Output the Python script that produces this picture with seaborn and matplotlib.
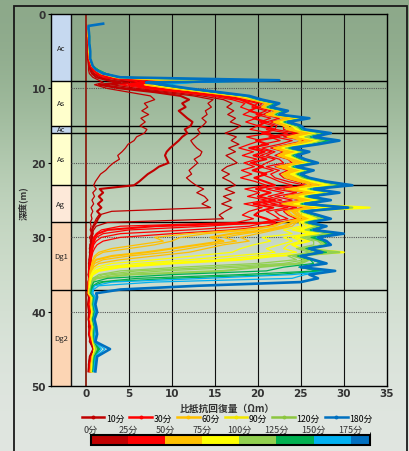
import numpy as np
import seaborn as sns
import matplotlib.pyplot as plt
from matplotlib.colors import ListedColormap, BoundaryNorm
from matplotlib.cm import ScalarMappable
from matplotlib.lines import Line2D
from matplotlib.patches import Rectangle

plt.rcParams['font.family'] = ['Noto Sans CJK JP', 'DejaVu Sans']

N = np.nan

# depth of each reading (m)
depth = [1.3, 1.6, 2, 3, 4, 5, 6, 7, 7.5, 8, 8.5, 8.9, 9.2,
         9.5, 10, 10.5, 11, 11.5, 12, 12.5, 13, 13.5, 14, 14.5, 15, 15.5, 16, 16.5, 17,
         17.5, 18, 18.5, 19, 19.5, 20, 20.5, 21, 21.5, 22, 22.5, 23,
         23.5, 24, 24.5, 25, 25.5, 26, 26.5, 27, 27.5, 28,
         28.5, 29, 29.5, 30, 30.5, 31, 31.5, 32, 32.5, 33, 33.5, 34, 34.5, 35, 35.5, 36, 36.5, 37, 37.5,
         38, 39, 40, 41, 42, 43, 44, 45, 46, 47, 48]

# resistivity recovery (Ωm) per elapsed time
r005 = [N, 0.2, 0.2, 0.2, 0.2, 0.2, 0.2, 0.3, 0.3, 0.4, 0.8, 1.5, 2.0,
        1.0, 2.5, 5.0, 7.5, 8.0, 6.8, 7.2, 6.5, 7.3, 6.4, 6.9, 6.3, 7.1, 6.8, 5.9, 5.6, 4.9, 4.6, 4.2, 3.7, 3.9, 3.2, 2.7, 2.3, 1.7, 1.4, 1.1, 0.9,
        1.2, 0.8, 1.0, 0.7, 0.9, 0.6, 0.8, 0.6, 0.7, 0.5,
        0.6, 0.5, 0.7, 0.4, 0.6, 0.5, 0.4, 0.5, 0.4, 0.4, 0.3, 0.4, 0.3, 0.3, 0.4, 0.3, 0.3, 0.3, 0.2,
        0.3, 0.2, 0.3, 0.3, 0.4, 0.3, 0.5, 0.8, 0.4, 0.3, 0.3]
r010 = [N, 0.2, 0.2, 0.2, 0.3, 0.3, 0.3, 0.4, 0.5, 0.7, 1.2, 2.5, 4.0,
        1.5, 4.0, 8.0, 11.0, 12.0, 11.2, 11.6, 10.8, 11.3, 11.8, 12.4, 12.2, 11.5, 11.8, 11.2, 10.8, 10.3, 9.8, 9.4, 9.2, 9.4, 9.6, 8.5, 7.9, 7.2, 6.7, 6.2, 5.6,
        1.6, 2.0, 1.5, 1.9, 1.4, 1.8, 1.3, 1.7, 1.4, 1.2,
        0.9, 0.7, 0.8, 0.6, 0.7, 0.5, 0.6, 0.5, 0.5, 0.4, 0.5, 0.4, 0.4, 0.3, 0.4, 0.3, 0.3, 0.3, 0.3,
        0.4, 0.3, 0.4, 0.3, 0.5, 0.4, 0.6, 1.2, 0.5, 0.4, 0.3]
r015 = [N, 0.2, 0.2, 0.2, 0.3, 0.3, 0.3, 0.4, 0.6, 0.9, 1.5, 3.0, 5.0,
        2.0, 5.0, 9.0, 12.5, 14.8, 14.2, 14.6, 13.9, 14.1, 13.5, 14.0, 13.6, 13.0, 13.3, 12.8, 12.2, 12.5, 12.9, 13.5, 13.3, 12.6, 13.0, 12.5, 12.0, 12.3, 11.7, 12.2, 12.8,
        13.7, 12.9, 13.8, 14.2, 13.5, 14.5, 3.0, 1.5, 1.2, 1.0,
        0.8, 0.7, 0.6, 0.7, 0.5, 0.6, 0.5, 0.4, 0.5, 0.4, 0.4, 0.3, 0.4, 0.3, 0.3, 0.3, 0.3, 0.3, 0.2,
        0.3, 0.4, 0.3, 0.4, 0.3, 0.5, 0.4, 0.9, 0.5, 0.3, 0.3]
r020 = [N, 0.2, 0.2, 0.3, 0.3, 0.3, 0.3, 0.5, 0.7, 1.0, 1.8, 4.0, 6.0,
        3.0, 6.0, 10.0, 13.5, 16.0, 17.0, 16.4, 17.2, 16.5, 17.4, 16.8, 18.0, 17.3, 16.2, 17.5, 16.9, 17.8, 16.6, 17.4, 16.3, 17.0, 17.6, 16.4, 15.8, 16.7, 15.9, 16.8, 17.4,
        16.2, 17.3, 16.0, 16.9, 15.8, 17.0, 16.2, 15.5, 16.0, 2.5,
        1.2, 0.9, 0.7, 0.8, 0.6, 0.7, 0.5, 0.6, 0.5, 0.4, 0.5, 0.4, 0.4, 0.3, 0.4, 0.3, 0.3, 0.3, 0.3,
        0.4, 0.3, 0.5, 0.4, 0.4, 0.5, 0.6, 1.4, 0.6, 0.4, 0.4]
r025 = [N, 0.2, 0.2, 0.3, 0.3, 0.3, 0.3, 0.5, 0.8, 1.2, 2.0, 5.0, 6.5,
        4.0, 7.0, 11.0, 14.5, 17.0, 18.5, 18.0, 19.2, 18.3, 19.8, 18.6, 20.0, 19.1, 21.5, 18.7, 20.3, 19.0, 17.8, 19.5, 18.2, 19.9, 18.4, 19.6, 18.1, 19.3, 18.0, 19.7, 21.0,
        18.5, 20.2, 18.8, 21.0, 18.4, 20.5, 19.0, 18.2, 19.5, 17.5,
        4.0, 1.8, 1.2, 0.9, 0.8, 0.7, 0.6, 0.6, 0.5, 0.5, 0.4, 0.4, 0.4, 0.3, 0.4, 0.3, 0.3, 0.3, 0.3,
        0.4, 0.4, 0.5, 0.4, 0.5, 0.4, 0.6, 1.3, 0.6, 0.5, 0.4]
r030 = [N, 0.2, 0.2, 0.3, 0.3, 0.3, 0.4, 0.6, 0.9, 1.4, 2.5, 6.0, 7.0,
        5.0, 8.0, 12.0, 15.5, 18.0, 19.0, 20.0, 19.0, 20.5, 19.5, 21.0, 20.0, 22.0, 20.5, 22.5, 19.8, 21.2, 19.0, 20.8, 19.5, 21.0, 19.2, 20.6, 19.4, 21.0, 19.6, 20.8, 22.0,
        19.8, 21.5, 20.0, 22.0, 19.5, 21.8, 20.2, 19.6, 21.0, 22.0,
        8.0, 2.5, 1.4, 1.0, 0.9, 0.8, 0.7, 0.6, 0.6, 0.5, 0.5, 0.4, 0.4, 0.4, 0.4, 0.3, 0.3, 0.3, 0.3,
        0.5, 0.4, 0.5, 0.5, 0.6, 0.5, 0.7, 1.5, 0.7, 0.5, 0.5]
r035 = [N, 0.2, 0.3, 0.3, 0.3, 0.3, 0.4, 0.6, 1.0, 1.5, 2.8, 7.0, 7.5,
        5.5, 8.5, 12.5, 16.0, 18.0, 20.0, 19.3, 21.0, 19.8, 21.5, 20.2, 21.8, 21.0, 23.5, 21.3, 22.6, 20.5, 19.8, 21.6, 20.3, 22.0, 21.0, 20.2, 21.8, 20.4, 21.5, 22.5, 24.0,
        21.0, 23.0, 21.2, 22.8, 20.6, 23.5, 21.0, 21.8, 22.5, 20.5,
        14.0, 5.0, 2.0, 1.2, 1.0, 0.8, 0.7, 0.7, 0.6, 0.5, 0.5, 0.4, 0.4, 0.4, 0.3, 0.4, 0.3, 0.3, 0.3,
        0.5, 0.5, 0.6, 0.4, 0.6, 0.5, 0.7, 1.4, 0.8, 0.6, 0.5]
r040 = [N, 0.2, 0.3, 0.3, 0.3, 0.4, 0.4, 0.7, 1.0, 1.6, 3.0, 8.0, 7.5,
        6.0, 9.0, 13.0, 16.5, 18.5, 20.5, 20.0, 21.5, 20.6, 22.5, 21.0, 22.2, 22.0, 24.5, 22.0, 24.0, 22.5, 20.5, 22.0, 21.0, 22.5, 23.0, 21.0, 22.5, 21.5, 22.0, 23.5, 25.5,
        22.0, 24.5, 22.0, 24.0, 21.5, 24.5, 22.0, 22.5, 23.5, 21.0,
        19.0, 12.0, 4.0, 1.8, 1.2, 0.9, 0.8, 0.7, 0.6, 0.6, 0.5, 0.5, 0.4, 0.4, 0.4, 0.3, 0.3, 0.3, 0.3,
        0.5, 0.5, 0.6, 0.5, 0.6, 0.6, 0.7, 1.3, 0.7, 0.6, 0.5]
r045 = [N, 0.3, 0.3, 0.3, 0.3, 0.4, 0.4, 0.7, 1.1, 1.7, 3.2, 8.5, 8.0,
        6.5, 9.5, 13.5, 17.0, 19.0, 21.0, 20.3, 22.0, 21.2, 23.5, 21.5, 23.0, 23.0, 25.0, 23.0, 25.5, 23.5, 21.5, 23.0, 22.0, 23.5, 24.0, 22.0, 23.5, 22.5, 23.0, 24.5, 26.5,
        23.0, 25.5, 23.0, 25.0, 22.5, 25.5, 23.0, 23.5, 24.5, 22.5,
        21.0, 17.0, 10.0, 4.0, 2.0, 1.3, 1.0, 0.8, 0.7, 0.6, 0.6, 0.5, 0.5, 0.4, 0.4, 0.4, 0.3, 0.3, 0.3,
        0.6, 0.5, 0.6, 0.5, 0.7, 0.6, 0.7, 1.2, 0.7, 0.6, 0.5]
r050 = [N, 0.3, 0.3, 0.3, 0.3, 0.4, 0.4, 0.7, 1.1, 1.7, 3.3, 9.0, 8.0,
        6.8, 9.8, 13.8, 17.2, 19.2, 21.2, 20.5, 22.1, 21.4, 23.8, 21.8, 23.2, 23.3, 25.2, 23.4, 25.8, 23.8, 21.8, 23.2, 22.3, 23.6, 24.3, 22.2, 23.8, 22.8, 23.2, 24.8, 26.8,
        23.2, 25.8, 23.2, 25.2, 22.8, 25.8, 23.2, 23.8, 24.8, 22.8,
        21.5, 18.0, 12.0, 8.0, 9.0, 6.0, 3.0, 1.5, 1.0, 0.8, 0.7, 0.6, 0.5, 0.5, 0.4, 0.4, 0.4, 0.3, 0.3,
        0.6, 0.5, 0.7, 0.5, 0.7, 0.6, 0.8, 1.1, 0.7, 0.6, 0.5]
r055 = [N, 0.3, 0.3, 0.3, 0.4, 0.4, 0.4, 0.7, 1.1, 1.8, 3.4, 9.0, 8.5,
        7.0, 10.0, 14.0, 17.5, 19.5, 21.5, 20.8, 22.3, 21.6, 24.0, 22.0, 23.5, 23.5, 25.5, 23.8, 26.0, 24.0, 22.0, 23.5, 22.5, 23.8, 24.5, 22.5, 24.0, 23.0, 23.5, 25.0, 27.0,
        23.5, 26.0, 23.5, 25.5, 23.0, 26.0, 23.5, 24.0, 25.0, 23.0,
        22.0, 19.0, 14.0, 11.0, 10.0, 8.0, 5.0, 2.0, 1.2, 0.9, 0.7, 0.6, 0.5, 0.5, 0.4, 0.4, 0.4, 0.3, 0.3,
        0.6, 0.6, 0.7, 0.5, 0.7, 0.6, 0.8, 1.0, 0.8, 0.6, 0.6]
r060 = [N, 0.3, 0.3, 0.3, 0.4, 0.4, 0.5, 0.8, 1.2, 1.9, 3.5, 10.0, 9.0,
        7.0, 10.5, 14.0, 17.5, 19.5, 21.0, 20.5, 22.5, 21.0, 23.5, 22.0, 23.0, 24.0, 26.0, 24.0, 25.0, 24.5, 22.0, 24.0, 22.5, 24.0, 25.0, 23.0, 24.5, 23.0, 24.0, 25.5, 26.0,
        24.0, 26.5, 24.0, 26.0, 23.5, 27.0, 24.0, 24.5, 25.5, 24.0,
        23.0, 21.0, 17.0, 14.5, 16.0, 13.0, 10.0, 7.0, 3.0, 1.2, 0.8, 0.7, 0.6, 0.5, 0.5, 0.4, 0.4, 0.4, 0.3,
        0.6, 0.6, 0.7, 0.6, 0.7, 0.6, 0.8, 1.1, 0.8, 0.7, 0.6]
r065 = [N, 0.3, 0.3, 0.3, 0.4, 0.4, 0.5, 0.8, 1.2, 2.0, 3.5, 10.5, 9.2,
        7.2, 10.8, 14.2, 17.8, 19.8, 21.4, 20.8, 22.6, 21.4, 24.0, 22.2, 23.4, 24.1, 26.2, 24.2, 25.8, 24.8, 22.2, 24.2, 22.8, 24.2, 25.2, 23.2, 24.8, 23.2, 24.2, 25.8, 26.8,
        24.2, 26.8, 24.2, 26.2, 23.8, 27.2, 24.2, 24.8, 25.8, 24.2,
        23.5, 21.5, 18.5, 16.0, 17.5, 14.5, 12.0, 9.5, 5.0, 2.0, 1.0, 0.8, 0.6, 0.5, 0.5, 0.4, 0.4, 0.4, 0.3,
        0.6, 0.6, 0.7, 0.6, 0.8, 0.6, 0.8, 1.0, 0.8, 0.7, 0.6]
r070 = [N, 0.3, 0.3, 0.3, 0.4, 0.4, 0.5, 0.8, 1.3, 2.0, 3.6, 11.0, 9.5,
        7.5, 11.0, 14.5, 18.0, 20.0, 21.8, 21.0, 22.8, 21.8, 24.5, 22.5, 23.8, 24.2, 26.5, 24.5, 26.5, 25.0, 22.5, 24.5, 23.0, 24.5, 25.5, 23.5, 25.0, 23.5, 24.5, 26.0, 27.5,
        24.5, 27.0, 24.5, 26.5, 24.0, 27.5, 24.5, 25.0, 26.0, 24.5,
        24.0, 22.0, 20.0, 18.0, 19.0, 16.0, 14.0, 12.0, 8.0, 4.0, 1.5, 0.9, 0.7, 0.6, 0.5, 0.5, 0.4, 0.4, 0.4,
        0.7, 0.6, 0.7, 0.6, 0.8, 0.7, 0.8, 1.0, 0.8, 0.7, 0.6]
r075 = [N, 0.3, 0.3, 0.3, 0.4, 0.4, 0.5, 0.8, 1.3, 2.0, 3.6, 12.0, 9.8,
        7.8, 11.0, 14.5, 18.0, 20.0, 21.9, 21.0, 22.9, 21.9, 24.8, 22.6, 24.0, 24.4, 26.8, 24.8, 27.0, 25.2, 22.8, 24.8, 23.2, 24.6, 25.8, 23.6, 25.2, 23.8, 24.8, 26.2, 28.0,
        24.8, 27.2, 24.8, 26.8, 24.2, 27.8, 24.8, 25.2, 26.2, 24.8,
        25.0, 23.0, 24.0, 20.5, 21.5, 19.5, 18.0, 17.0, 12.5, 8.0, 3.0, 1.2, 0.8, 0.6, 0.5, 0.5, 0.4, 0.4, 0.4,
        0.7, 0.7, 0.7, 0.6, 0.8, 0.7, 0.8, 1.0, 0.8, 0.7, 0.7]
r080 = [N, 0.3, 0.3, 0.3, 0.4, 0.4, 0.5, 0.8, 1.3, 2.0, 3.7, 13.0, 10.0,
        8.0, 11.0, 14.5, 18.0, 20.0, 22.0, 21.0, 23.0, 22.0, 25.0, 22.8, 24.2, 24.5, 27.0, 25.0, 27.5, 25.5, 23.0, 25.0, 23.5, 24.8, 26.0, 23.8, 25.5, 24.0, 25.0, 26.5, 28.5,
        25.0, 27.5, 25.0, 27.0, 24.5, 28.0, 25.0, 25.5, 26.5, 25.0,
        25.5, 24.0, 26.0, 23.0, 24.0, 22.5, 21.0, 22.0, 17.0, 12.0, 6.0, 2.0, 1.0, 0.7, 0.6, 0.5, 0.5, 0.4, 0.4,
        0.7, 0.7, 0.8, 0.6, 0.8, 0.7, 0.9, 1.0, 0.9, 0.7, 0.7]
r085 = [N, 0.3, 0.3, 0.4, 0.4, 0.4, 0.5, 0.8, 1.3, 2.1, 3.7, 14.0, 10.0,
        8.0, 11.2, 14.8, 18.2, 20.0, 22.0, 21.0, 23.0, 22.0, 25.2, 22.9, 24.1, 24.8, 27.0, 25.2, 27.2, 25.8, 23.0, 25.0, 23.8, 24.9, 26.0, 23.9, 25.5, 24.2, 25.0, 26.8, 28.5,
        25.2, 27.8, 25.2, 27.2, 24.8, 28.5, 24.8, 25.8, 26.8, 25.2,
        26.0, 24.5, 26.5, 24.0, 25.0, 23.5, 23.0, 24.5, 20.0, 15.5, 8.0, 3.0, 1.2, 0.7, 0.6, 0.5, 0.5, 0.4, 0.4,
        0.7, 0.7, 0.8, 0.7, 0.8, 0.7, 0.9, 1.1, 0.9, 0.8, 0.7]
r090 = [N, 0.3, 0.3, 0.4, 0.4, 0.4, 0.5, 0.8, 1.4, 2.1, 3.8, 15.0, 10.0,
        8.0, 11.5, 15.0, 18.5, 20.0, 22.0, 21.0, 23.0, 22.0, 25.5, 23.0, 24.0, 25.0, 27.0, 25.5, 27.0, 26.0, 23.0, 25.0, 24.0, 25.0, 26.0, 24.0, 25.5, 24.5, 25.0, 27.0, 28.5,
        25.5, 28.0, 25.5, 27.5, 25.0, 33.0, 25.0, 26.0, 27.0, 25.5,
        26.5, 25.0, 27.0, 24.5, 26.0, 24.0, 25.0, 30.0, 22.0, 18.0, 10.0, 4.0, 1.5, 0.8, 0.6, 0.6, 0.5, 0.5, 0.4,
        0.8, 0.7, 0.8, 0.7, 0.9, 0.8, 0.9, 1.1, 0.9, 0.8, 0.7]
r100 = [N, 0.3, 0.3, 0.4, 0.4, 0.4, 0.5, 0.8, 1.4, 2.2, 3.8, 16.0, 10.2,
        8.2, 11.5, 15.0, 18.5, 20.0, 22.0, 21.0, 23.0, 22.0, 25.5, 23.0, 24.2, 25.0, 27.2, 25.5, 27.5, 26.0, 23.2, 25.2, 24.0, 25.0, 26.2, 24.0, 25.8, 24.5, 25.2, 27.2, 29.0,
        25.8, 28.2, 25.5, 27.8, 25.0, 29.0, 25.0, 26.2, 27.2, 25.5,
        26.8, 25.5, 28.0, 25.0, 26.5, 26.5, 24.5, 26.0, 23.5, 24.5, 20.0, 11.0, 4.0, 1.5, 0.8, 0.7, 0.6, 0.5, 0.5,
        0.8, 0.7, 0.9, 0.7, 0.9, 0.8, 0.9, 1.2, 0.9, 0.8, 0.8]
r105 = [N, 0.3, 0.3, 0.4, 0.4, 0.4, 0.5, 0.8, 1.4, 2.2, 3.8, 17.0, 10.5,
        8.5, 11.5, 15.0, 18.5, 20.0, 22.0, 21.0, 23.0, 22.0, 25.5, 23.0, 24.5, 25.0, 27.5, 25.5, 28.0, 26.0, 23.5, 25.5, 24.0, 25.0, 26.5, 24.0, 26.0, 24.5, 25.5, 27.5, 29.5,
        26.0, 28.5, 25.5, 28.0, 25.0, 29.5, 25.0, 26.5, 27.5, 25.5,
        27.0, 26.0, 28.5, 25.5, 27.0, 27.5, 25.0, 26.5, 24.0, 25.5, 23.0, 15.0, 6.0, 2.0, 0.8, 0.7, 0.6, 0.5, 0.5,
        0.8, 0.8, 0.9, 0.7, 0.9, 0.8, 0.9, 1.2, 0.9, 0.8, 0.8]
r112 = [N, 0.3, 0.3, 0.4, 0.4, 0.5, 0.5, 0.8, 1.4, 2.2, 3.8, 18.0, 10.8,
        8.5, 11.5, 15.0, 18.5, 20.0, 22.0, 21.0, 23.0, 22.0, 25.5, 23.0, 24.5, 25.0, 27.5, 25.8, 28.0, 26.2, 23.5, 25.5, 24.0, 25.0, 26.5, 24.0, 26.0, 24.5, 25.5, 27.5, 29.8,
        26.0, 28.8, 25.5, 28.0, 25.0, 30.0, 25.0, 26.5, 27.8, 25.5,
        27.2, 25.8, 28.8, 25.8, 27.2, 27.8, 25.2, 27.5, 24.2, 25.8, 24.5, 18.0, 9.0, 3.0, 1.0, 0.7, 0.6, 0.5, 0.5,
        0.8, 0.8, 0.9, 0.8, 0.9, 0.8, 1.0, 1.3, 1.0, 0.8, 0.8]
r120 = [N, 0.3, 0.3, 0.4, 0.4, 0.5, 0.5, 0.8, 1.4, 2.2, 3.9, 19.0, 11.0,
        8.5, 11.5, 15.0, 18.5, 20.0, 22.0, 21.0, 23.0, 22.0, 25.5, 23.0, 24.5, 25.0, 27.5, 26.0, 28.0, 26.5, 23.5, 25.5, 24.0, 25.0, 26.5, 24.0, 26.0, 24.5, 25.5, 27.5, 30.0,
        26.0, 29.0, 25.5, 28.0, 25.0, 31.0, 25.0, 26.5, 28.0, 25.5,
        27.5, 26.0, 29.0, 26.0, 27.5, 28.0, 25.5, 29.5, 24.5, 26.0, 25.0, 20.0, 16.0, 5.0, 1.2, 0.8, 0.7, 0.6, 0.5,
        0.9, 0.8, 0.9, 0.8, 1.0, 0.9, 1.0, 1.3, 1.0, 0.9, 0.8]
r128 = [N, 0.3, 0.3, 0.4, 0.4, 0.5, 0.5, 0.8, 1.4, 2.3, 3.9, 19.5, 11.2,
        8.5, 11.6, 15.0, 18.6, 20.1, 22.1, 21.1, 23.1, 22.1, 25.6, 23.1, 24.6, 25.1, 27.8, 26.1, 28.2, 26.5, 23.6, 25.6, 24.1, 25.1, 26.6, 24.1, 26.1, 24.6, 25.6, 27.6, 30.1,
        26.1, 29.1, 25.6, 28.1, 25.1, 30.5, 25.1, 26.6, 28.1, 25.6,
        27.6, 26.1, 29.2, 26.2, 27.6, 28.1, 25.6, 28.0, 24.6, 26.1, 26.5, 23.0, 21.0, 10.0, 2.5, 0.9, 0.7, 0.6, 0.6,
        0.9, 0.8, 1.0, 0.8, 1.0, 0.9, 1.0, 1.4, 1.0, 0.9, 0.8]
r135 = [N, 0.3, 0.3, 0.4, 0.4, 0.5, 0.5, 0.8, 1.4, 2.3, 3.9, 20.0, 11.5,
        8.5, 11.8, 15.0, 18.8, 20.2, 22.2, 21.2, 23.2, 22.2, 25.8, 23.2, 24.8, 25.2, 28.0, 26.2, 28.5, 26.5, 23.8, 25.8, 24.2, 25.2, 26.8, 24.2, 26.2, 24.8, 25.8, 27.8, 30.2,
        26.2, 29.2, 25.8, 28.2, 25.2, 30.0, 25.2, 26.8, 28.2, 25.8,
        27.8, 26.2, 29.5, 26.5, 27.8, 28.2, 25.8, 27.2, 24.8, 26.2, 27.5, 24.8, 27.0, 18.0, 6.0, 1.5, 0.8, 0.7, 0.6,
        0.9, 0.9, 1.0, 0.8, 1.0, 0.9, 1.0, 1.5, 1.0, 0.9, 0.9]
r142 = [N, 0.3, 0.3, 0.4, 0.4, 0.5, 0.5, 0.8, 1.4, 2.3, 3.9, 20.5, 11.8,
        8.6, 11.9, 15.1, 18.8, 20.2, 22.2, 21.2, 23.2, 22.2, 25.8, 23.2, 24.8, 25.2, 28.1, 26.2, 28.8, 26.6, 23.8, 25.8, 24.2, 25.2, 26.8, 24.2, 26.2, 24.8, 25.8, 27.8, 30.3,
        26.2, 29.2, 25.8, 28.2, 25.2, 30.1, 25.2, 26.8, 28.2, 25.8,
        27.8, 26.2, 29.6, 26.6, 27.8, 28.2, 25.8, 27.2, 24.8, 26.2, 27.6, 24.8, 27.5, 22.0, 10.0, 2.0, 0.9, 0.7, 0.6,
        0.9, 0.9, 1.0, 0.8, 1.0, 1.0, 1.0, 1.6, 1.0, 0.9, 0.9]
r150 = [N, 0.3, 0.3, 0.4, 0.4, 0.5, 0.5, 0.8, 1.3, 2.2, 3.9, 21.0, 12.0,
        8.8, 12.0, 15.2, 18.8, 20.3, 22.3, 21.3, 23.3, 22.3, 25.9, 23.3, 24.9, 25.3, 28.2, 26.3, 29.0, 26.8, 23.9, 25.9, 24.3, 25.3, 26.9, 24.3, 26.3, 24.9, 25.9, 27.9, 30.5,
        26.3, 29.3, 25.9, 28.3, 25.3, 30.2, 25.3, 26.9, 28.3, 25.9,
        27.9, 26.3, 29.8, 26.8, 27.9, 28.3, 25.9, 27.3, 24.9, 26.3, 27.8, 24.9, 28.5, 24.0, 14.0, 3.0, 1.0, 0.8, 0.7,
        1.0, 0.9, 1.1, 0.9, 1.1, 1.0, 1.0, 1.8, 1.1, 1.0, 0.9]
r165 = [N, 0.3, 0.3, 0.4, 0.4, 0.5, 0.5, 0.8, 1.2, 2.1, 4.0, 22.0, 12.5,
        8.9, 12.0, 15.4, 18.9, 20.4, 22.4, 21.4, 23.4, 22.4, 25.9, 23.4, 24.9, 25.4, 28.4, 26.4, 29.3, 26.9, 23.9, 25.9, 24.4, 25.4, 26.9, 24.4, 26.4, 24.9, 25.9, 27.9, 30.8,
        26.4, 29.4, 25.9, 28.4, 25.4, 30.4, 25.4, 26.9, 28.4, 25.9,
        27.9, 26.4, 29.9, 26.9, 27.9, 28.4, 25.9, 27.4, 24.9, 26.4, 27.9, 24.9, 28.8, 25.5, 24.0, 8.0, 1.5, 0.9, 0.8,
        1.1, 1.0, 1.2, 0.9, 1.1, 1.2, 1.0, 2.2, 1.2, 1.1, 1.0]
r180 = [2.0, 0.3, 0.3, 0.4, 0.4, 0.5, 0.5, 0.8, 1.2, 2.0, 4.0, 22.5, 7.0,
        9.0, 12.0, 15.5, 19.0, 20.5, 22.5, 21.5, 23.5, 22.5, 26.0, 23.5, 25.0, 25.5, 28.5, 26.5, 29.5, 27.0, 24.0, 26.0, 24.5, 25.5, 27.0, 24.5, 26.5, 25.0, 26.0, 28.0, 31.0,
        26.5, 29.5, 26.0, 28.5, 25.5, 30.5, 25.5, 27.0, 28.5, 26.0,
        28.0, 26.5, 30.0, 27.0, 28.0, 28.5, 26.0, 27.5, 25.0, 26.5, 28.0, 25.0, 29.0, 26.0, 27.0, 25.0, 13.0, 4.0, 1.2,
        1.3, 1.1, 1.3, 1.0, 1.2, 1.3, 1.1, 2.8, 1.3, 1.2, 1.1]

times = [5, 10, 15, 20, 25, 30, 35, 40, 45, 50, 55, 60, 65, 70, 75, 80, 85, 90,
         100, 105, 112, 120, 128, 135, 142, 150, 165, 180]
curves = [r005, r010, r015, r020, r025, r030, r035, r040, r045, r050, r055, r060, r065, r070,
          r075, r080, r085, r090, r100, r105, r112, r120, r128, r135, r142, r150, r165, r180]
highlight = [10, 30, 60, 90, 120, 180]

band_edges = [0, 25, 50, 75, 100, 125, 150, 175, 188]
band_colors = ["#c00000", "#ff0000", "#ffc000", "#ffff00", "#92d050", "#00b050", "#00b0f0", "#0070c0"]
legend_labels = ["10分", "30分", "60分", "90分", "120分", "180分"]
legend_colors = ["#c00000", "#ff0000", "#ffc000", "#f2e600", "#8cc63f", "#0070c0"]

strata_names = ["Ac", "As", "Ac", "As", "Ag", "Dg1", "Dg2"]
strata_top = [0, 9, 15, 16, 23, 28, 37]
strata_bottom = [9, 15, 16, 23, 28, 37, 50]
strata_colors = ["#c6d9f0", "#ffffcc", "#c6d9f0", "#ffffcc", "#fde9d9", "#fcd5b4", "#fcd5b4"]

for c in curves:
    assert len(c) == len(depth), len(c)

W, H = 409, 452
fig = plt.figure(figsize=(W / 100, H / 100), dpi=100)

# background
bg = fig.add_axes([0, 0, 1, 1], zorder=-5)
grad = np.array([[0.55, 0.66, 0.54], [0.62, 0.73, 0.61], [0.74, 0.82, 0.73],
                 [0.80, 0.86, 0.79], [0.85, 0.89, 0.85], [0.88, 0.90, 0.88]])
bg.imshow(grad[:, None, :], aspect='auto', extent=[0, 1, 0, 1], interpolation='bicubic')
bg.axis('off')
fig.add_artist(Rectangle((14 / W, -0.05), (407 - 14) / W, (H - 7) / H + 0.05,
                         transform=fig.transFigure, fill=False, lw=1.3, ec='#1a1a1a'))

ax = fig.add_axes([50.7 / W, 1 - 387.3 / H, 336 / W, 372.3 / H])
ax.set_facecolor('none')
xl, col_r = -4.1, -1.75

for name, top, bot, col in zip(strata_names, strata_top, strata_bottom, strata_colors):
    ax.add_patch(Rectangle((xl, top), col_r - xl, bot - top, fc=col, ec='none', zorder=0.5))
    ax.text((xl + col_r) / 2, (top + bot) / 2, name, ha='center', va='center',
            fontsize=5.5, color='#222222', zorder=3)

ax.vlines([5, 10, 15, 20, 25, 30], 0, 50, color='#111111', lw=0.8, zorder=1)
ax.vlines([col_r], 0, 50, color='#111111', lw=1.0, zorder=1)
ax.axvline(0, color='#8e2a1c', lw=1.4, zorder=1.2)
ax.hlines([10, 20, 30, 40], col_r, 35, colors='#555555', linestyles=(0, (1, 1)), lw=0.8, zorder=1)
ax.hlines(strata_top[1:], xl, 35, colors='#000000', lw=1.0, zorder=1.5)

for t, vals in zip(times, curves):
    color = band_colors[min(t // 25, 7)]
    lw = 1.5 if t in highlight else 0.9
    if t == 180:
        lw = 1.9
    sns.lineplot(x=vals, y=depth, sort=False, estimator=None, color=color, lw=lw, ax=ax, zorder=2)

ax.set_xlim(xl, 35)
ax.set_ylim(50, 0)
ax.set_xticks([0, 5, 10, 15, 20, 25, 30, 35])
ax.set_yticks([0, 10, 20, 30, 40, 50])
ax.tick_params(axis='x', length=0, pad=1.5, labelsize=7.5, labelcolor='#333333')
ax.tick_params(axis='y', length=2, pad=1.5, labelsize=7.5, labelcolor='#333333')
for lab in ax.get_xticklabels() + ax.get_yticklabels():
    lab.set_fontweight('bold')
    lab.set_family('DejaVu Sans')
ax.set_xlabel('')
ax.set_ylabel('')
for s in ax.spines.values():
    s.set_color('#000000')
    s.set_linewidth(1.0)

fig.text(23 / W, 1 - 203 / H, "深度(m)", rotation=90, ha='center', va='center',
         fontsize=6.5, color='#333333', fontweight='bold')
fig.text(227 / W, 1 - 409 / H, "比抵抗回復量（Ωm）", ha='center', va='center',
         fontsize=7, color='#333333', fontweight='bold')

handles = [Line2D([0], [0], color=c, lw=1.8, marker='o', markersize=1.8) for c in legend_colors]
fig.legend(handles, legend_labels, loc='center', bbox_to_anchor=(227 / W, 1 - 419 / H), ncol=6,
           frameon=False, fontsize=6.3, handlelength=2.6, handletextpad=0.15, columnspacing=0.6,
           borderpad=0.1)

cax = fig.add_axes([90.7 / W, 1 - 446 / H, (370 - 90.7) / W, 10 / H])
cmap = ListedColormap(band_colors)
norm = BoundaryNorm(band_edges, cmap.N)
cb = fig.colorbar(ScalarMappable(norm=norm, cmap=cmap), cax=cax, orientation='horizontal',
                  spacing='proportional', ticks=band_edges[:-1])
cb.ax.xaxis.set_ticks_position('top')
cb.ax.set_xticklabels([f"{t}分" for t in band_edges[:-1]])
cb.ax.tick_params(length=0, pad=0.5, labelsize=6.5, labelcolor='#333333')
cb.outline.set_linewidth(1.5)

fig.savefig("out.png", dpi=100)
